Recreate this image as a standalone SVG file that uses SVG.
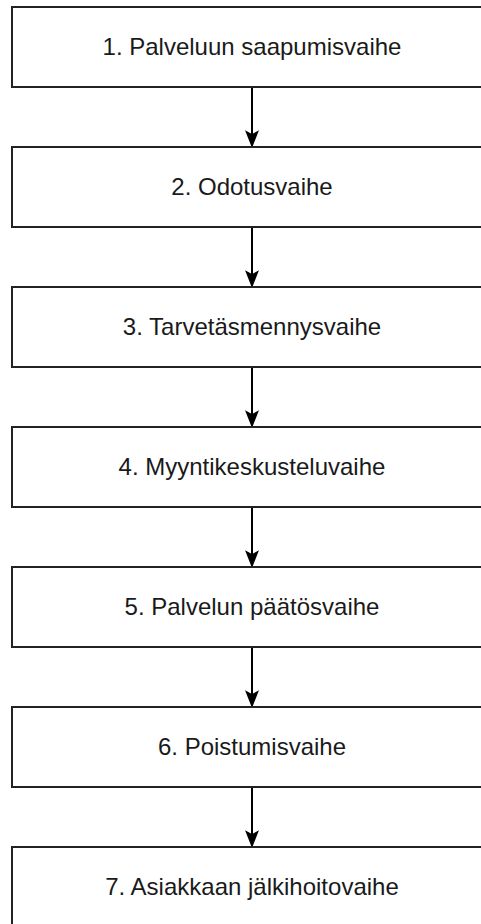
<svg xmlns="http://www.w3.org/2000/svg" width="481" height="924" viewBox="0 0 481 924">
<style>
.box{fill:#ffffff;stroke:#222222;stroke-width:2}
.lbl{font-family:"Liberation Sans",Arial,Helvetica,sans-serif;font-size:24px;fill:#1a1a1a;text-anchor:middle}
.edge{stroke:#000000;stroke-width:2;fill:none}
.head{fill:#000000;stroke:#000000;stroke-width:1.5;stroke-linejoin:miter}
</style>
<defs>
<path id="ah" class="head" d="M0,0 L-5.5,-14 L0,-11 L5.5,-14 Z"/>
</defs>
<rect width="481" height="924" fill="#ffffff"/>
<g id="connectors">
<line class="edge" x1="252" y1="87" x2="252" y2="137"/>
<use href="#ah" x="252" y="146"/>
<line class="edge" x1="252" y1="227" x2="252" y2="277"/>
<use href="#ah" x="252" y="286"/>
<line class="edge" x1="252" y1="367" x2="252" y2="417"/>
<use href="#ah" x="252" y="426"/>
<line class="edge" x1="252" y1="507" x2="252" y2="557"/>
<use href="#ah" x="252" y="566"/>
<line class="edge" x1="252" y1="647" x2="252" y2="697"/>
<use href="#ah" x="252" y="706"/>
<line class="edge" x1="252" y1="787" x2="252" y2="837"/>
<use href="#ah" x="252" y="846"/>
</g>
<g id="n1"><rect class="box" x="12" y="7" width="480" height="80"/><text class="lbl" x="252" y="55">1. Palveluun saapumisvaihe</text></g>
<g id="n2"><rect class="box" x="12" y="147" width="480" height="80"/><text class="lbl" x="252" y="195">2. Odotusvaihe</text></g>
<g id="n3"><rect class="box" x="12" y="287" width="480" height="80"/><text class="lbl" x="252" y="335">3. Tarvetäsmennysvaihe</text></g>
<g id="n4"><rect class="box" x="12" y="427" width="480" height="80"/><text class="lbl" x="252" y="475">4. Myyntikeskusteluvaihe</text></g>
<g id="n5"><rect class="box" x="12" y="567" width="480" height="80"/><text class="lbl" x="252" y="615">5. Palvelun päätösvaihe</text></g>
<g id="n6"><rect class="box" x="12" y="707" width="480" height="80"/><text class="lbl" x="252" y="755">6. Poistumisvaihe</text></g>
<g id="n7"><rect class="box" x="12" y="847" width="480" height="80"/><text class="lbl" x="252" y="895">7. Asiakkaan jälkihoitovaihe</text></g>
</svg>
